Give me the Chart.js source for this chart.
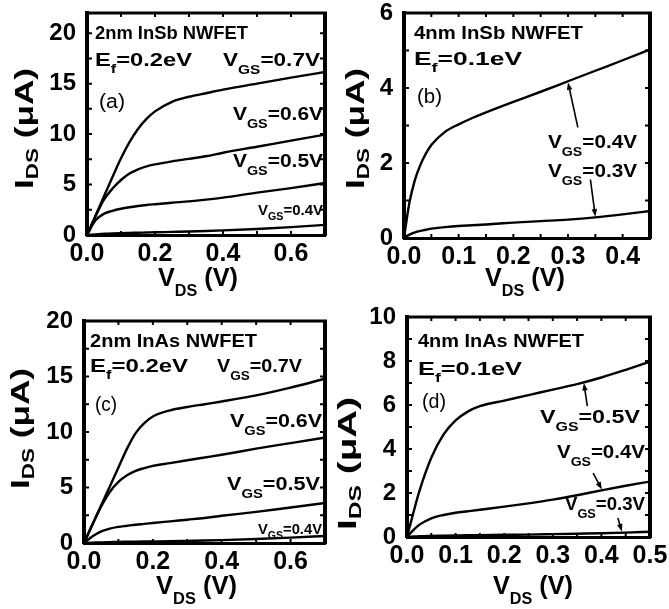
<!DOCTYPE html>
<html>
<head>
<meta charset="utf-8">
<script src="https://cdn.jsdelivr.net/npm/chart.js@4.4.1/dist/chart.umd.min.js"></script>
<style>
  html, body { margin: 0; padding: 0; background: #fff; }
  #wrap { position: relative; width: 669px; height: 609px; overflow: hidden; }
  canvas { position: absolute; }
</style>
</head>
<body>
<div id="wrap">
  <canvas id="panelA" width="335" height="300" style="left:0px;top:0px;width:335px;height:300px"></canvas>
  <canvas id="panelB" width="334" height="300" style="left:335px;top:0px;width:334px;height:300px"></canvas>
  <canvas id="panelC" width="335" height="309" style="left:0px;top:300px;width:335px;height:309px"></canvas>
  <canvas id="panelD" width="334" height="309" style="left:335px;top:300px;width:334px;height:309px"></canvas>
</div>
<script>
// output characteristics, V_DS in V, I_DS in uA

// (a) 2nm InSb
const vdsA = [0, 0.025, 0.05, 0.075, 0.1, 0.125, 0.15, 0.175, 0.2, 0.25, 0.3, 0.35, 0.4, 0.5, 0.6, 0.7];
const idsA07 = [0, 1.9, 3.85, 5.75, 7.6, 9.2, 10.5, 11.5, 12.25, 13.2, 13.7, 14.05, 14.4, 15.0, 15.6, 16.15];
const idsA06 = [0, 1.85, 3.5, 4.6, 5.45, 6.1, 6.5, 6.8, 7.0, 7.3, 7.55, 7.8, 8.15, 8.75, 9.35, 9.95];
const idsA05 = [0, 1.45, 2.1, 2.4, 2.6, 2.75, 2.87, 2.97, 3.05, 3.2, 3.33, 3.5, 3.7, 4.2, 4.65, 5.15];
const idsA04 = [0, 0.06, 0.12, 0.16, 0.19, 0.21, 0.23, 0.25, 0.27, 0.31, 0.35, 0.4, 0.46, 0.6, 0.78, 1.0];

// (b) 4nm InSb
const vdsB = [0, 0.005, 0.01, 0.02, 0.03, 0.04, 0.05, 0.075, 0.1, 0.125, 0.15, 0.2, 0.25, 0.3, 0.35, 0.4, 0.45];
const idsB04 = [0, 0.5, 0.95, 1.55, 1.95, 2.25, 2.48, 2.83, 3.03, 3.2, 3.35, 3.63, 3.9, 4.18, 4.46, 4.74, 5.03];
const idsB03 = [0, 0.05, 0.09, 0.15, 0.19, 0.22, 0.25, 0.29, 0.32, 0.34, 0.36, 0.41, 0.45, 0.49, 0.55, 0.63, 0.72];

// (c) 2nm InAs
const vdsC = [0, 0.025, 0.05, 0.075, 0.1, 0.125, 0.15, 0.175, 0.2, 0.25, 0.3, 0.35, 0.4, 0.5, 0.6, 0.7];
const idsC07 = [0, 1.7, 3.4, 5.1, 6.8, 8.5, 9.9, 10.8, 11.4, 11.95, 12.25, 12.5, 12.75, 13.3, 14.0, 14.8];
const idsC06 = [0, 1.7, 3.3, 4.6, 5.5, 6.1, 6.5, 6.75, 6.95, 7.2, 7.45, 7.7, 7.95, 8.5, 9.0, 9.5];
const idsC05 = [0, 0.6, 1.05, 1.3, 1.45, 1.55, 1.65, 1.72, 1.8, 1.95, 2.1, 2.25, 2.45, 2.8, 3.2, 3.6];
const idsC04 = [0, 0.03, 0.06, 0.08, 0.1, 0.11, 0.12, 0.13, 0.14, 0.16, 0.19, 0.22, 0.26, 0.36, 0.48, 0.63];

// (d) 4nm InAs
const vdsD = [0, 0.0125, 0.025, 0.05, 0.075, 0.1, 0.125, 0.15, 0.2, 0.25, 0.3, 0.35, 0.4, 0.45, 0.5];
const idsD05 = [0, 1.05, 2.05, 3.6, 4.65, 5.3, 5.7, 5.95, 6.2, 6.45, 6.7, 6.95, 7.25, 7.6, 7.97];
const idsD04 = [0, 0.3, 0.55, 0.85, 1.0, 1.1, 1.17, 1.24, 1.38, 1.53, 1.7, 1.9, 2.12, 2.33, 2.52];
const idsD03 = [0, 0.02, 0.035, 0.05, 0.06, 0.07, 0.08, 0.085, 0.1, 0.11, 0.13, 0.15, 0.17, 0.2, 0.24];

// tick labels
const xTicksA = [0, 0.2, 0.4, 0.6];
const yTicksA = [0, 5, 10, 15, 20];
const xTicksB = [0, 0.1, 0.2, 0.3, 0.4];
const yTicksB = [0, 2, 4, 6];
const xTicksC = [0, 0.2, 0.4, 0.6];
const yTicksC = [0, 5, 10, 15, 20];
const xTicksD = [0, 0.1, 0.2, 0.3, 0.4, 0.5];
const yTicksD = [0, 2, 4, 6, 8, 10];

const FAM = "'Liberation Sans', Arial, sans-serif";
const bold = s => "bold " + s + "px " + FAM;
const plain = s => s + "px " + FAM;

// text pieces: [text, font, baseline shift]
const vgs = (v, s, sub, dy) => [["V", bold(s)], ["GS", bold(sub), dy], ["=" + v, bold(s)]];
const ef = v => [["E", bold(19)], ["f", bold(13), 7], ["=" + v, bold(19)]];
const vdsTitle = [["V", bold(25)], ["DS", bold(16), 10], [" (V)", bold(25)]];
const idsTitle = [["I", bold(25)], ["DS", bold(16), 5], [" (\u03BCA)", bold(25)]];

// draw a run of text starting at (x, y), squeezed/stretched to width w
function rich(ctx, parts, x, y, w, rotated) {
  ctx.save();
  let total = 0;
  parts.forEach(p => { ctx.font = p[1]; total += ctx.measureText(p[0]).width; });
  ctx.translate(x, y);
  if (rotated) ctx.rotate(-Math.PI / 2);
  ctx.scale(w ? w / total : 1, 1);
  let cx = 0;
  parts.forEach(p => {
    ctx.font = p[1];
    ctx.fillText(p[0], cx, p[2] || 0);
    cx += ctx.measureText(p[0]).width;
  });
  ctx.restore();
}

function arrow(ctx, x1, y1, x2, y2) {
  const a = Math.atan2(y2 - y1, x2 - x1), L = 8, s = 0.35;
  ctx.beginPath();
  ctx.moveTo(x1, y1);
  ctx.lineTo(x2 - 4 * Math.cos(a), y2 - 4 * Math.sin(a));
  ctx.stroke();
  ctx.beginPath();
  ctx.moveTo(x2, y2);
  ctx.lineTo(x2 - L * Math.cos(a - s), y2 - L * Math.sin(a - s));
  ctx.lineTo(x2 - L * Math.cos(a + s), y2 - L * Math.sin(a + s));
  ctx.closePath();
  ctx.fill();
}

function panel(id, p) {
  const el = document.getElementById(id);
  const W = el.width, H = el.height;
  const [bl, bt, br, bb] = p.box;

  const decor = {
    id: "decor_" + id,
    afterDraw(chart) {
      const ctx = chart.ctx, a = chart.chartArea;
      const xs = chart.scales.x, ys = chart.scales.y;
      ctx.save();
      ctx.strokeStyle = "#000";
      ctx.fillStyle = "#000";
      // top and right edges of the frame
      ctx.lineWidth = 3;
      ctx.beginPath(); ctx.moveTo(a.left - 2, a.top); ctx.lineTo(a.right + 2, a.top); ctx.stroke();
      ctx.lineWidth = 4;
      ctx.beginPath(); ctx.moveTo(a.right, a.top - 1); ctx.lineTo(a.right, a.bottom + 1); ctx.stroke();
      // inward ticks on all four sides
      ctx.lineWidth = 2;
      const nx = Math.round(p.xMax / p.xStep);
      for (let i = 1; i < nx; i++) {
        const px = xs.getPixelForValue(i * p.xStep);
        ctx.beginPath();
        ctx.moveTo(px, a.bottom); ctx.lineTo(px, a.bottom - 4);
        ctx.moveTo(px, a.top); ctx.lineTo(px, a.top + 4);
        ctx.stroke();
      }
      const ny = Math.round(p.yMax / p.yStep);
      for (let i = 1; i <= ny; i++) {
        const py = ys.getPixelForValue(i * p.yStep);
        if (py <= a.top + 1) continue;
        ctx.beginPath();
        ctx.moveTo(a.left, py); ctx.lineTo(a.left + 5, py);
        ctx.moveTo(a.right, py); ctx.lineTo(a.right - 5, py);
        ctx.stroke();
      }
      // labels inside the plot
      ctx.textBaseline = "alphabetic";
      ctx.textAlign = "left";
      p.notes.forEach(n => rich(ctx, n.parts, n.x, n.y, n.w));
      // axis titles
      rich(ctx, vdsTitle, p.xTitle[0], p.xTitle[1], p.xTitle[2]);
      rich(ctx, idsTitle, p.yTitle[0], p.yTitle[1], p.yTitle[2], true);
      // arrows pointing at curves
      ctx.lineWidth = 1.6;
      (p.arrows || []).forEach(r => arrow(ctx,
        xs.getPixelForValue(r[0]), ys.getPixelForValue(r[1]),
        xs.getPixelForValue(r[2]), ys.getPixelForValue(r[3])));
      ctx.restore();
    }
  };

  return new Chart(el, {
    type: "line",
    data: {
      datasets: p.series.map(s => ({
        data: p.vds.map((v, i) => ({ x: v, y: s[i] })),
        borderColor: "#000",
        borderWidth: 2.4,
        pointRadius: 0,
        cubicInterpolationMode: "monotone",
        fill: false
      }))
    },
    options: {
      responsive: false,
      animation: false,
      devicePixelRatio: 1,
      events: [],
      layout: { padding: { left: 0, top: bt, right: W - br, bottom: 0 } },
      plugins: { legend: { display: false }, tooltip: { enabled: false } },
      scales: {
        x: {
          type: "linear",
          min: 0,
          max: p.xMax,
          grid: { display: false },
          border: { display: true, color: "#000", width: 3 },
          ticks: {
            color: "#000",
            font: { family: FAM, size: 25, weight: "bold" },
            padding: -4,
            maxRotation: 0,
            autoSkip: false,
            callback: v => Number(v).toFixed(1)
          },
          afterBuildTicks: s => { s.ticks = p.xTicks.map(v => ({ value: v })); },
          afterFit: s => { s.height = H - bb; s.paddingLeft = 0; s.paddingRight = 0; }
        },
        y: {
          type: "linear",
          min: 0,
          max: p.yMax,
          grid: { display: false },
          border: { display: true, color: "#000", width: 4 },
          ticks: {
            color: "#000",
            font: { family: FAM, size: 24, weight: "bold" },
            padding: 3,
            autoSkip: false,
            callback: v => String(v)
          },
          afterBuildTicks: s => { s.ticks = p.yTicks.map(v => ({ value: v })); },
          afterFit: s => { s.width = bl; s.paddingTop = 0; s.paddingBottom = 0; }
        }
      }
    },
    plugins: [decor]
  });
}

panel("panelA", {
  box: [87, 13, 325, 235],
  vds: vdsA, series: [idsA07, idsA06, idsA05, idsA04],
  xMax: 0.7, xStep: 0.1, xTicks: xTicksA,
  yMax: 22, yStep: 2.5, yTicks: yTicksA,
  xTitle: [158, 286, 80], yTitle: [33, 189, 121],
  notes: [
    { parts: [["2nm InSb NWFET", bold(18)]], x: 95, y: 39, w: 153 },
    { parts: ef("0.2eV"), x: 95, y: 66, w: 97 },
    { parts: vgs("0.7V", 19, 13, 8), x: 223, y: 66, w: 97 },
    { parts: [["(a)", plain(20)]], x: 99, y: 108, w: 26 },
    { parts: vgs("0.6V", 19, 13, 8), x: 233, y: 120, w: 90 },
    { parts: vgs("0.5V", 19, 13, 8), x: 233, y: 167, w: 90 },
    { parts: vgs("0.4V", 14, 10, 5), x: 258, y: 215, w: 65 }
  ]
});

panel("panelB", {
  box: [69, 13, 315, 238],
  vds: vdsB, series: [idsB04, idsB03],
  xMax: 0.45, xStep: 0.05, xTicks: xTicksB,
  yMax: 6, yStep: 1, yTicks: yTicksB,
  xTitle: [150, 286, 80], yTitle: [29, 189, 121],
  notes: [
    { parts: [["4nm InSb NWFET", bold(18)]], x: 79, y: 39, w: 169 },
    { parts: ef("0.1eV"), x: 79, y: 65, w: 108 },
    { parts: [["(b)", plain(20)]], x: 82, y: 103, w: 25 },
    { parts: vgs("0.4V", 19, 13, 8), x: 213, y: 148, w: 89 },
    { parts: vgs("0.3V", 19, 13, 8), x: 213, y: 177, w: 89 }
  ],
  arrows: [[0.318, 2.95, 0.3, 4.15], [0.341, 1.56, 0.35, 0.57]]
});

panel("panelC", {
  box: [84, 21, 325, 243],
  vds: vdsC, series: [idsC07, idsC06, idsC05, idsC04],
  xMax: 0.7, xStep: 0.1, xTicks: xTicksC,
  yMax: 20, yStep: 2.5, yTicks: yTicksC,
  xTitle: [156, 294, 81], yTitle: [29, 189, 121],
  notes: [
    { parts: [["2nm InAs NWFET", bold(18)]], x: 90, y: 47, w: 167 },
    { parts: ef("0.2eV"), x: 90, y: 72, w: 98 },
    { parts: vgs("0.7V", 19, 13, 8), x: 217, y: 72, w: 85 },
    { parts: [["(c)", plain(20)]], x: 95, y: 111, w: 22 },
    { parts: vgs("0.6V", 19, 13, 8), x: 230, y: 127, w: 92 },
    { parts: vgs("0.5V", 19, 13, 8), x: 227, y: 190, w: 93 },
    { parts: vgs("0.4V", 14, 10, 5), x: 258, y: 234, w: 64 }
  ]
});

panel("panelD", {
  box: [72, 17, 315, 237],
  vds: vdsD, series: [idsD05, idsD04, idsD03],
  xMax: 0.5, xStep: 0.05, xTicks: xTicksD,
  yMax: 10, yStep: 1, yTicks: yTicksD,
  xTitle: [158, 294, 80], yTitle: [21, 230, 133],
  notes: [
    { parts: [["4nm InAs NWFET", bold(18)]], x: 83, y: 47, w: 166 },
    { parts: ef("0.1eV"), x: 83, y: 75, w: 104 },
    { parts: [["(d)", plain(20)]], x: 87, y: 108, w: 24 },
    { parts: vgs("0.5V", 19, 13, 8), x: 205, y: 123, w: 100 },
    { parts: vgs("0.4V", 19, 13, 8), x: 222, y: 158, w: 88 },
    { parts: vgs("0.3V", 19, 13, 8), x: 230, y: 210, w: 80 }
  ],
  arrows: [[0.371, 5.95, 0.364, 7.0], [0.383, 2.9, 0.401, 2.16], [0.434, 0.86, 0.442, 0.25]]
});
</script>
</body>
</html>
